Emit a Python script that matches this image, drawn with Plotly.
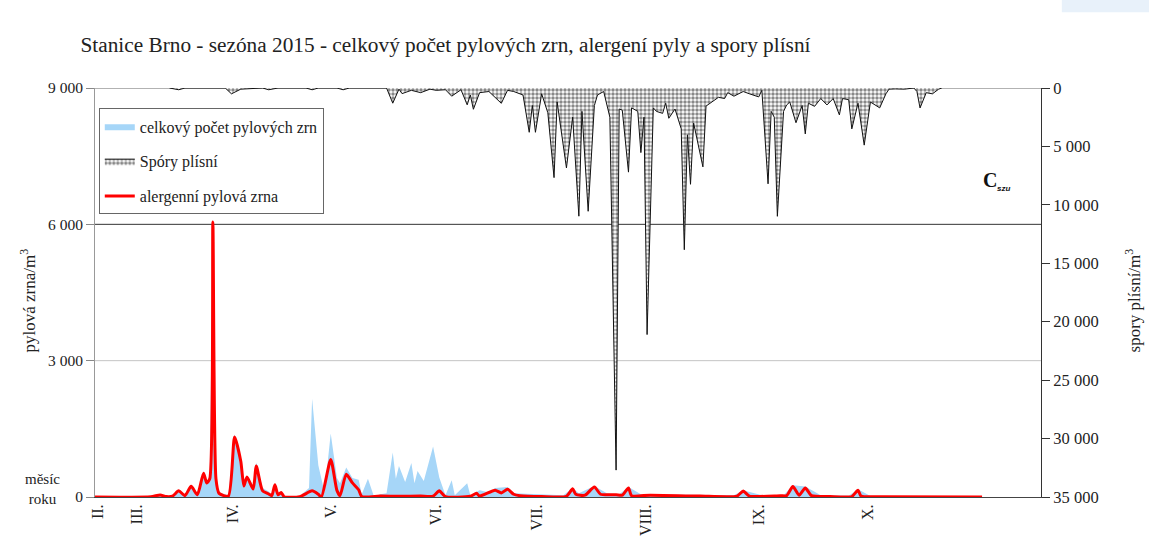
import plotly.graph_objects as go

# Day of season (0 = start of the plotted period) and daily values
den_alerg = [0, 18, 21, 23, 25, 27, 29, 31, 33, 35, 36, 37, 38, 39, 40, 43, 45, 47, 48, 49, 51, 52, 54, 56, 57,
             58, 59, 60, 61, 66, 70, 72, 73, 76, 78, 79, 81, 83, 85, 86, 92, 98, 105, 109, 111, 113, 121, 123, 124,
             129, 131, 133, 135, 137, 144, 152, 154, 155, 158, 161, 163, 168, 170, 172, 173, 179, 195, 207, 209,
             211, 221, 223, 225, 227, 229, 231, 237, 244, 246, 247, 253, 286]
alergenni = [0, 5, 45, 10, 20, 135, 30, 235, 50, 525, 310, 400, 6050, 400, 80, 20, 1320, 785, 240, 440, 175, 680,
             140, 65, 30, 270, 50, 100, 5, 5, 135, 60, 0, 825, 145, 30, 500, 310, 160, 10, 20, 15, 20, 20, 135, 10,
             15, 80, 20, 150, 90, 170, 60, 30, 10, 15, 180, 60, 40, 220, 60, 50, 40, 200, 30, 40, 20, 20, 130, 20,
             30, 30, 230, 40, 200, 30, 10, 10, 150, 20, 5, 0]

den_celkem = [0, 18, 21, 23, 25, 27, 29, 31, 33, 35, 36, 37, 38, 39, 40, 43, 45, 47, 48, 49, 51, 52, 54, 56, 57,
              58, 59, 60, 61, 66, 69, 70, 72, 74, 76, 78, 79, 81, 83, 85, 86, 88, 90, 92, 94, 96, 97, 98, 100, 102,
              103, 104, 106, 109, 111, 113, 115, 116, 120, 121, 124, 127, 129, 133, 135, 144, 151, 154, 156, 161,
              165, 169, 172, 176, 195, 206, 209, 215, 222, 225, 229, 234, 243, 246, 250, 286]
celkem = [0, 5, 50, 15, 30, 150, 40, 260, 60, 560, 330, 420, 6050, 420, 100, 40, 1380, 820, 280, 470, 250, 760,
          200, 120, 60, 300, 90, 120, 20, 20, 200, 2160, 700, 100, 1400, 420, 300, 650, 420, 380, 60, 400, 0, 60,
          80, 980, 400, 680, 330, 750, 300, 570, 350, 1110, 430, 40, 370, 40, 300, 40, 150, 100, 200, 220, 80, 60,
          40, 200, 80, 240, 80, 60, 220, 60, 50, 40, 150, 40, 40, 260, 230, 40, 30, 170, 20, 0]

den_spory = [24, 27, 29, 42, 44, 47, 54, 56, 59, 68, 70, 72, 78, 80, 82, 94, 96, 98, 99, 102, 105, 108, 110, 113,
             115, 118, 120, 121, 122, 124, 127, 131, 133, 135, 138, 140, 141, 142, 144, 146, 148, 149, 152, 154,
             156, 157, 159, 161, 162, 164, 166, 168, 169, 170, 172, 173, 175, 176, 177, 178, 180, 181, 183, 184,
             185, 187, 189, 190, 191, 192, 193, 196, 197, 199, 201, 203, 204, 206, 209, 211, 214, 215, 217, 218,
             219, 220, 222, 223, 224, 226, 228, 229, 230, 232, 234, 236, 238, 240, 241, 243, 244, 246, 248, 250,
             253, 255, 256, 258, 261, 264, 265, 266, 268, 270, 272, 273]
spory = [0, 150, 0, 0, 500, 100, 0, 150, 0, 0, 150, 0, 0, 150, 0, 0, 1300, 100, 480, 200, 400, 100, 200, 150,
         700, 150, 1440, 600, 1820, 400, 300, 1310, 200, 300, 600, 3790, 1500, 3790, 500, 2120, 7670, 1200, 6840,
         2500, 10970, 2000, 10550, 1500, 600, 300, 2500, 32700, 1800, 1900, 7200, 1700, 2000, 5530, 2500, 21100,
         1700, 2000, 2170, 1300, 2590, 1800, 3490, 13840, 4000, 8240, 3000, 6750, 1550, 1200, 800, 900, 400, 700,
         300, 500, 760, 200, 8200, 2000, 2500, 10980, 2000, 1450, 1200, 2970, 1500, 3930, 1300, 1570, 900, 1450,
         900, 2300, 900, 1000, 3500, 1300, 4890, 1200, 1700, 500, 100, 80, 100, 0, 300, 1710, 400, 500, 100, 0]

# Month labels and their positions on the day axis
mesic_den = [1, 13.5, 44.5, 76, 110, 142.5, 177.5, 214, 249]
mesic_text = ["II.", "III.", "IV.", "V.", "VI.", "VII.", "VIII.", "IX.", "X."]

pyl_ticks = [0, 3000, 6000, 9000]
spory_ticks = [0, 5000, 10000, 15000, 20000, 25000, 30000, 35000]

SERIF = "Liberation Serif"
TXT = "#222222"

fig = go.Figure()

fig.add_trace(go.Scatter(
    x=den_celkem, y=celkem, name="celkový počet pylových zrn",
    mode="lines", line=dict(width=0, color="#a6d6f8"),
    fill="tozeroy", fillcolor="#a6d6f8", legendgroup="a",
))

fig.add_trace(go.Scatter(
    x=den_spory, y=spory, name="Spóry plísní", yaxis="y2",
    mode="lines", line=dict(width=1, color="#111111"),
    fill="tozeroy", fillcolor="white",
    fillpattern=dict(shape=".", fgcolor="#111111", bgcolor="white", size=4, solidity=0.6),
    legendgroup="b",
))

fig.add_trace(go.Scatter(
    x=den_alerg, y=alergenni, name="alergenní pylová zrna",
    mode="lines", line=dict(width=3, color="#ff0000", shape="spline", smoothing=0.6),
    legendgroup="c",
))

shapes = [
    dict(type="line", xref="paper", yref="y", x0=0, x1=1, y0=3000, y1=3000,
         line=dict(color="#c4c4c4", width=1), layer="below"),
    dict(type="line", xref="paper", yref="y", x0=0, x1=1, y0=6000, y1=6000,
         line=dict(color="#333333", width=1), layer="below"),
    dict(type="line", xref="paper", yref="y", x0=0, x1=1, y0=9000, y1=9000,
         line=dict(color="#666666", width=1.2), layer="below"),
    dict(type="rect", xref="paper", yref="paper", x0=1.022, x1=1.12, y0=1.185, y1=1.22,
         line=dict(width=0), fillcolor="#e8f1fa", layer="below"),
]

annotations = [
    dict(text="pylová zrna/m<sup>3</sup>", xref="paper", yref="paper", x=-0.071, y=0.48,
         xanchor="center", yanchor="middle",
         textangle=-90, showarrow=False, font=dict(family=SERIF, size=17, color=TXT)),
    dict(text="spory plísní/m<sup>3</sup>", xref="paper", yref="paper", x=1.097, y=0.48,
         xanchor="center", yanchor="middle",
         textangle=-90, showarrow=False, font=dict(family=SERIF, size=17, color=TXT)),
    dict(text="měsíc<br>roku", xref="paper", yref="paper", x=-0.056, y=0.02,
         xanchor="center", yanchor="middle",
         showarrow=False, align="center", font=dict(family=SERIF, size=15, color=TXT)),
    dict(text="<b>C</b>", xref="paper", yref="paper", x=0.946, y=0.776,
         xanchor="center", yanchor="middle",
         showarrow=False, font=dict(family=SERIF, size=20, color="#111111")),
    dict(text="<b><i>szu</i></b>", xref="paper", yref="paper", x=0.96, y=0.755,
         xanchor="center", yanchor="middle",
         showarrow=False, font=dict(family="Liberation Sans", size=8, color="#111111")),
]

fig.update_layout(
    width=1149, height=548,
    margin=dict(l=95, r=108, t=88, b=49),
    paper_bgcolor="white", plot_bgcolor="white",
    separators=". ",
    font=dict(family=SERIF, size=15, color=TXT),
    title=dict(
        text="Stanice Brno - sezóna 2015 - celkový počet pylových zrn, alergení pyly a spory plísní",
        xref="container", yref="container", x=0.07, y=0.918, xanchor="left", yanchor="middle",
        font=dict(family=SERIF, size=21.3, color=TXT),
    ),
    xaxis=dict(
        range=[0, 305], tickmode="array", tickvals=mesic_den, ticktext=mesic_text,
        tickangle=-90, ticks="", showgrid=False, zeroline=False,
        showline=True, linecolor="#444444", linewidth=1,
        tickfont=dict(family=SERIF, size=16, color=TXT),
    ),
    yaxis=dict(
        range=[0, 9000], tickmode="array", tickvals=pyl_ticks, tickformat=",d",
        ticks="outside", ticklen=8, tickcolor="#888888", showgrid=False, zeroline=False,
        showline=True, linecolor="#999999", linewidth=1,
        tickfont=dict(family=SERIF, size=15.5, color=TXT),
    ),
    yaxis2=dict(
        range=[35000, 0], overlaying="y", side="right", anchor="x",
        tickmode="array", tickvals=spory_ticks, tickformat=",d",
        ticks="outside", ticklen=8, tickcolor="#333333", showgrid=False, zeroline=False,
        showline=True, linecolor="#333333", linewidth=1,
        tickfont=dict(family=SERIF, size=16.5, color=TXT),
    ),
    legend=dict(
        x=0.004, y=0.95, xanchor="left", yanchor="top",
        bgcolor="white", bordercolor="#666666", borderwidth=1,
        tracegroupgap=11, font=dict(family=SERIF, size=16, color=TXT),
    ),
    shapes=shapes,
    annotations=annotations,
)

fig.write_html("out.html")
